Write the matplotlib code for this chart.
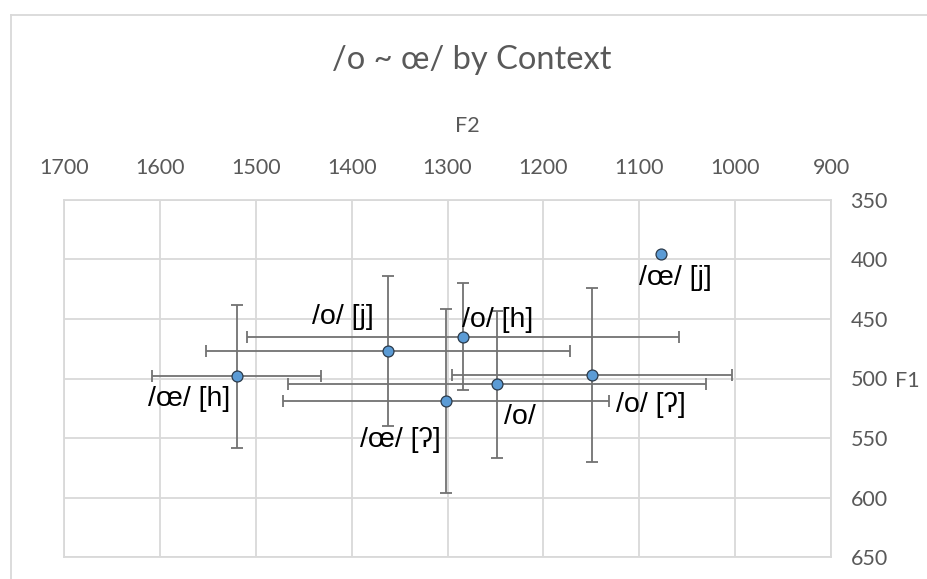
import matplotlib
matplotlib.use("Agg")
import matplotlib.pyplot as plt
from matplotlib.lines import Line2D
import numpy as np

labels = ["/œ/ [j]", "/o/ [h]", "/o/ [j]", "/œ/ [h]", "/œ/ [ʔ]", "/o/", "/o/ [ʔ]"]
f2 = [1077, 1284, 1362, 1520, 1302, 1248, 1149]
f1 = [395, 465, 477, 498, 519, 505, 497]
f2_err = [0, 225, 190, 88, 170, 218, 146]
f1_err = [0, 45, 63, 60, 77, 62, 73]
x_ticks = [1700, 1600, 1500, 1400, 1300, 1200, 1100, 1000, 900]
y_ticks = [350, 400, 450, 500, 550, 600, 650]

# label offsets in pixels (dx right, dy up)
offsets = [(14, -24), (35, 17), (-45, 34), (-47, -23), (-45, -39), (23, -33), (59, -30)]

W, H = 927, 579
fig = plt.figure(figsize=(W / 100, H / 100), dpi=100)
ax = fig.add_axes([64 / W, 1 - 557 / H, (831 - 64) / W, (557 - 200) / H])

grid_c = "#d9d9d9"
txt_c = "#595959"
tick_font = "Lato"

ax.set_xlim(1700, 900)
ax.set_ylim(650, 350)
ax.set_xticks(x_ticks)
ax.set_yticks(y_ticks)
ax.xaxis.tick_top()
ax.yaxis.tick_right()
ax.tick_params(length=0, labelsize=15.5, labelcolor=txt_c)
ax.tick_params(axis="x", pad=16)
ax.tick_params(axis="y", pad=14)
for lab in ax.get_xticklabels() + ax.get_yticklabels():
    lab.set_fontfamily(tick_font)
ax.grid(True, color=grid_c, linewidth=1.3)
ax.set_axisbelow(True)
for s in ax.spines.values():
    s.set_color(grid_c)
    s.set_linewidth(1.3)

f2a = np.array(f2, float)
f1a = np.array(f1, float)
xe = np.array(f2_err, float)
ye = np.array(f1_err, float)
m = (xe > 0) | (ye > 0)
ax.errorbar(f2a[m], f1a[m], xerr=xe[m], yerr=ye[m], fmt="none",
            ecolor="#727272", elinewidth=1.3, capsize=4.5, capthick=1.3, zorder=2)
ax.scatter(f2a, f1a, s=62, color="#5b9bd5", edgecolor="#2b3a4a", linewidth=0.9, zorder=3)

for lab, x, y, (dx, dy) in zip(labels, f2, f1, offsets):
    ax.annotate(lab, (x, y), xytext=(dx, dy), textcoords="offset pixels",
                ha="center", va="center", fontsize=20.5, color="black",
                family=["Liberation Sans", "DejaVu Sans"], zorder=4)

fig.text(472 / W, 1 - 60 / H, "/o ~ œ/ by Context", ha="center", va="center",
         fontsize=23.5, color=txt_c, family=tick_font)
fig.text(467 / W, 1 - 126 / H, "F2", ha="center", va="center",
         fontsize=15.5, color=txt_c, family=tick_font)
fig.text(907 / W, 1 - 381 / H, "F1", ha="center", va="center",
         fontsize=15.5, color=txt_c, family=tick_font)

fig.add_artist(Line2D([11 / W, 11 / W], [0, 1 - 15 / H], transform=fig.transFigure,
                      color=grid_c, linewidth=1.3))
fig.add_artist(Line2D([11 / W, 1], [1 - 15 / H, 1 - 15 / H], transform=fig.transFigure,
                      color=grid_c, linewidth=1.3))

fig.savefig("out.png", dpi=100)
